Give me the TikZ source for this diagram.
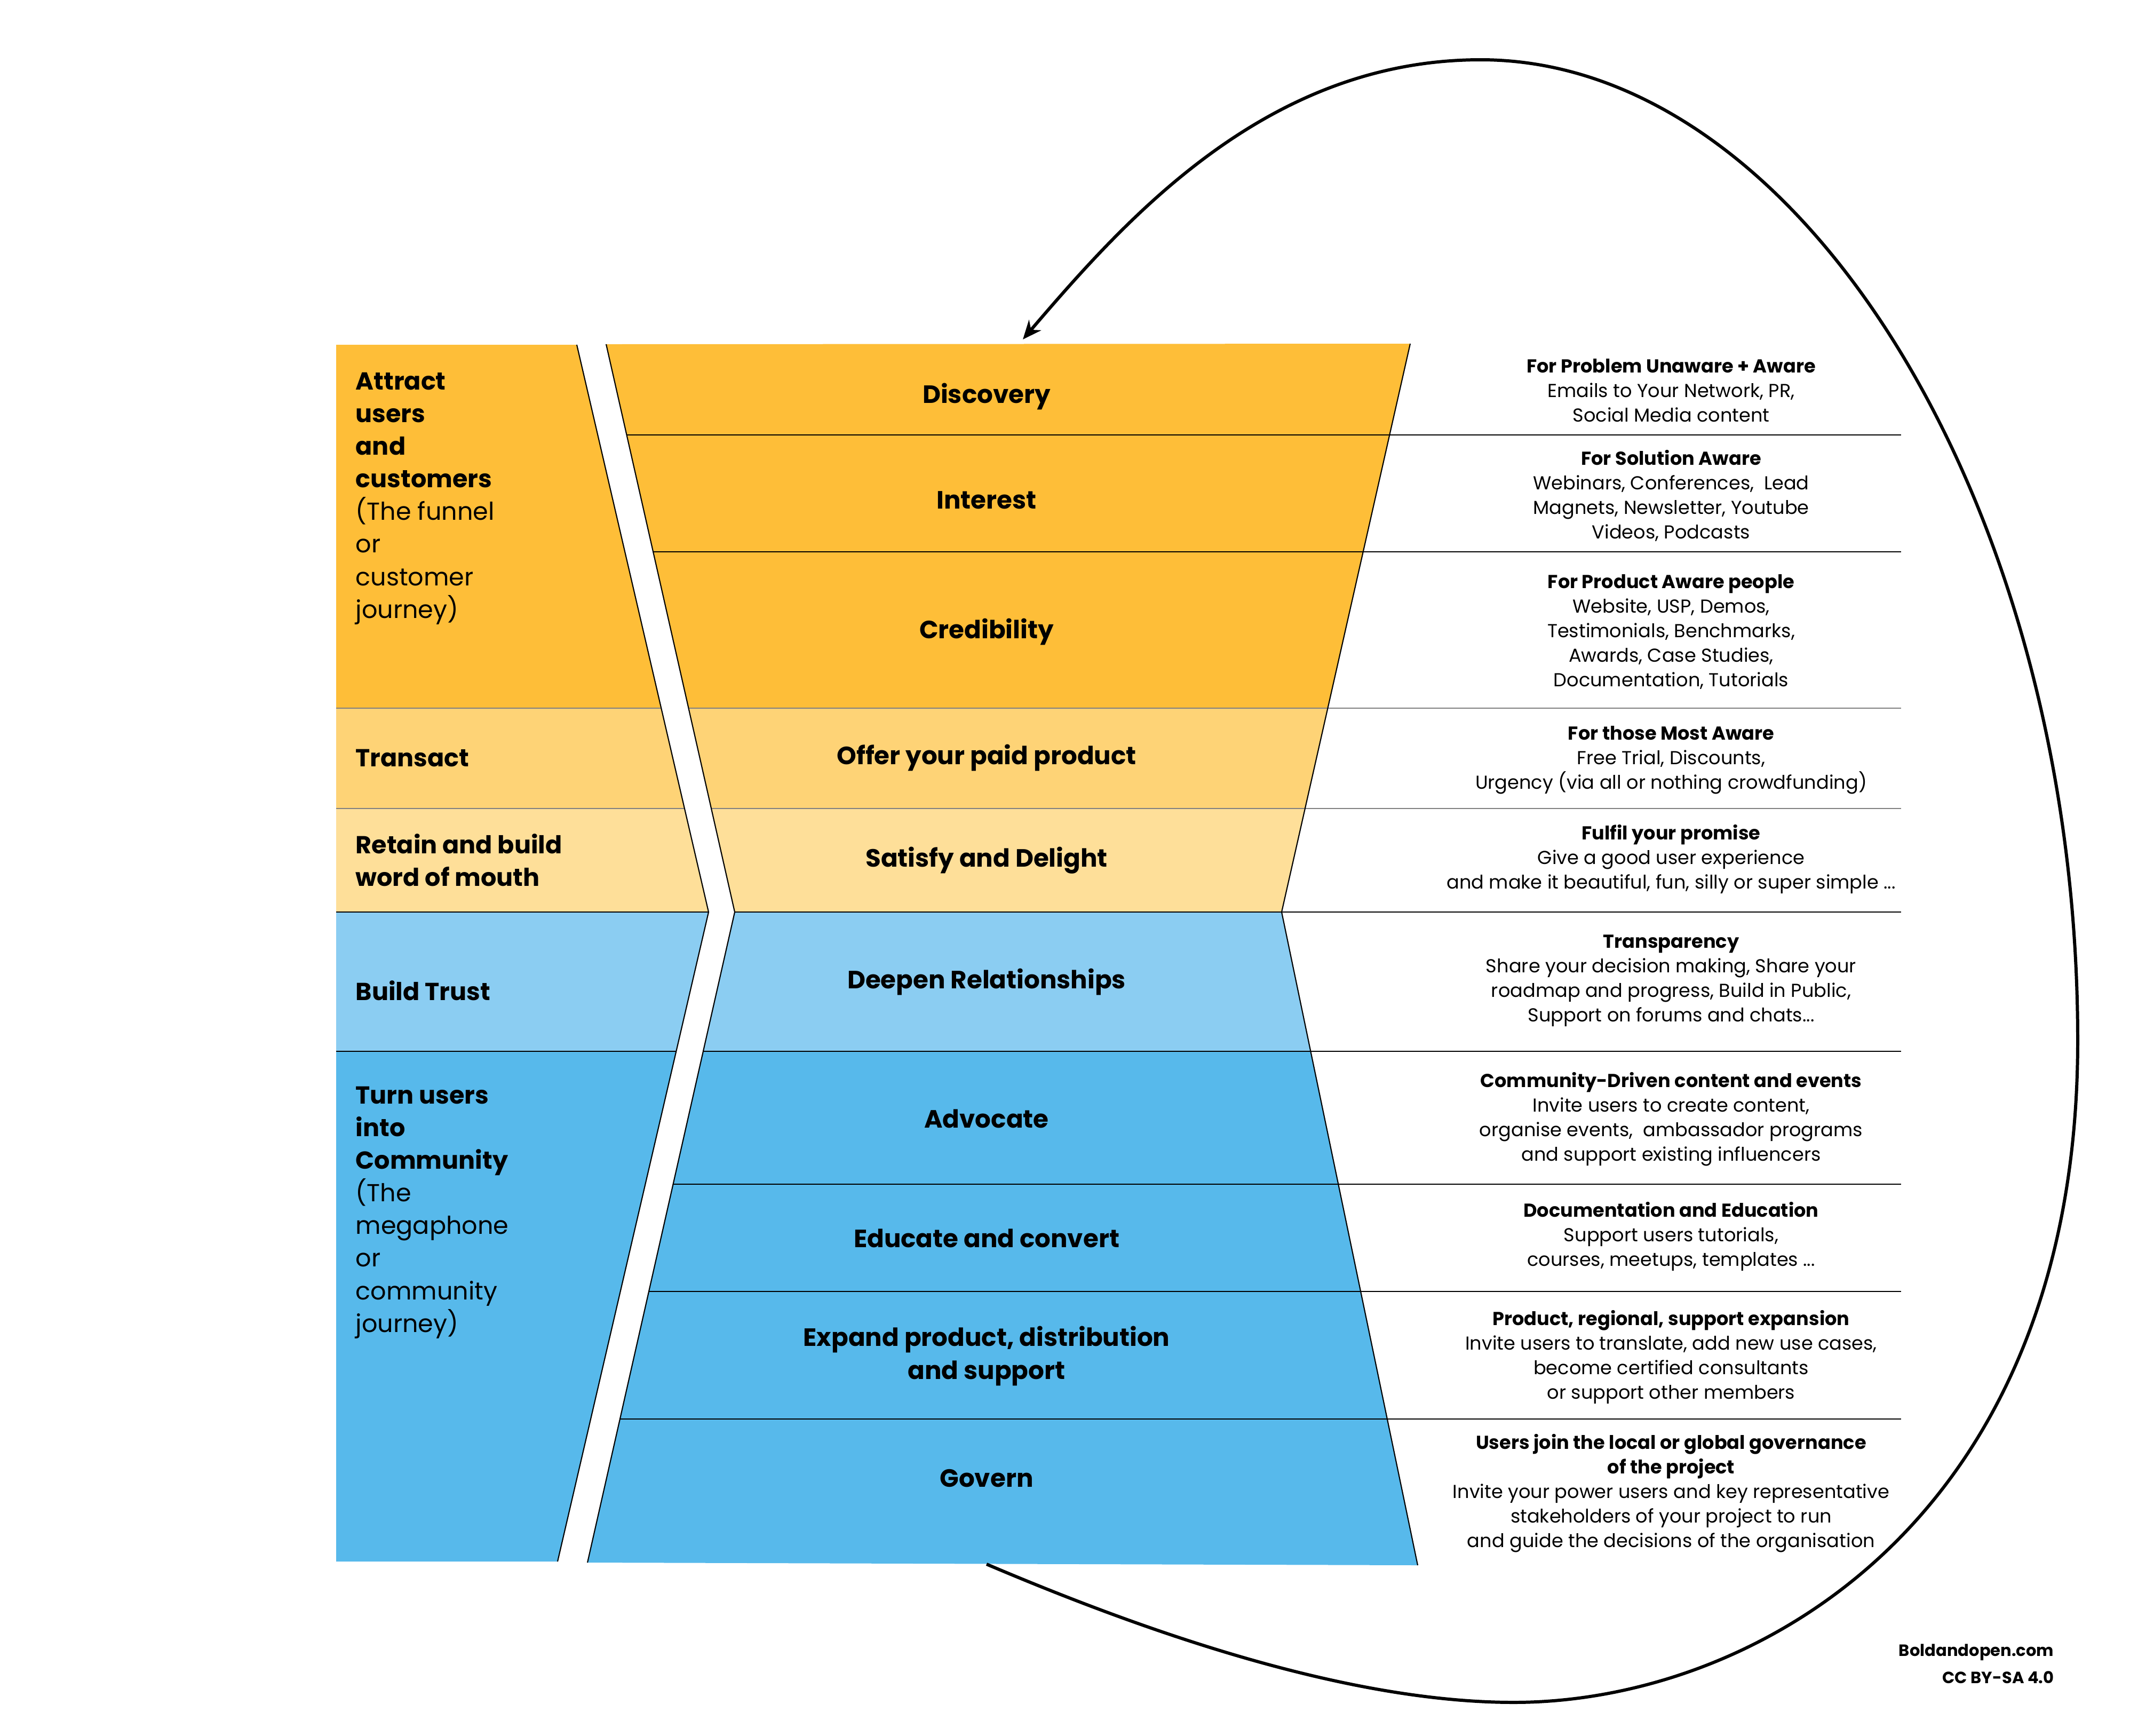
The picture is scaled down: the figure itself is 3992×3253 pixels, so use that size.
\documentclass[tikz,border=0pt]{standalone}
\usepackage{fontspec}
\setmainfont{Poppins}
\usepackage{tikz}
\usetikzlibrary{arrows.meta,calc}
\definecolor{attract}{RGB}{254,190,56}
\definecolor{transact}{RGB}{254,211,118}
\definecolor{retain}{RGB}{254,223,153}
\definecolor{trust}{RGB}{139,205,242}
\definecolor{community}{RGB}{87,185,235}
\newcommand{\lite}[1]{{\mdseries #1}}
\tikzset{
    stage/.style={
    font=\bfseries\fontsize{13.3}{17.4}\selectfont, align=center, inner sep=0pt
    },
    phase/.style={
    font=\bfseries\fontsize{13.1}{17.4}\selectfont, align=left, anchor=west, inner sep=0pt
    },
    tactic/.style={
    font=\fontsize{10}{13.1}\selectfont, align=center, inner sep=0pt
    },
  credit/.style={font=\bfseries\fontsize{8.7}{13.4}\selectfont, anchor=east, inner sep=0pt},
  rowline/.style={draw=black, line width=0.6pt},
  greyline/.style={draw=black!50, line width=0.6pt},
  rim/.style={draw=black, line width=0.6pt},
  cycleline/.style={draw=black, line width=1.7pt, -{Stealth[length=10pt,width=8.5pt]}}
}

\begin{document}
\begin{tikzpicture}[x=0.01cm,y=-0.01cm]
    \useasboundingbox (0,0) rectangle (3992,3253);

    % outline of the side column and of the funnel
    \coordinate (ltop) at (1081,646);
    \coordinate (lkink) at (1328,1709);
    \coordinate (lbot) at (1045,2926);
    \coordinate (ftl) at (1136,645);
    \coordinate (fkl) at (1377,1709);
    \coordinate (fbl) at (1101,2928);
    \coordinate (ftr) at (2643,644);
    \coordinate (fkr) at (2402,1709);
    \coordinate (fbr) at (2657,2933);

    \begin{scope}
      \clip (630,646) -- (ltop) -- (lkink) -- (lbot) -- (630,2926) -- cycle
            (ftl) -- (ftr) -- (fkr) -- (fbr) -- (fbl) -- (fkl) -- cycle;
      \foreach \ya/\yb/\col in {600/1327/attract,1327/1515/transact,1515/1709/retain,1709/1970/trust,1970/3000/community}
        \fill[\col] (600,\ya) rectangle (2700,\yb);
    \end{scope}

    \begin{scope}
      \clip (630,646) -- (ltop) -- (lkink) -- (lbot) -- (630,2926) -- cycle;
      \foreach \y in {1709,1970} \draw[rowline] (600,\y) -- (1400,\y);
      \foreach \y in {1327,1515} \draw[greyline] (600,\y) -- (1400,\y);
    \end{scope}

    \begin{scope}
      \clip (ftl) -- (fkl) -- (fbl) -- (3563,2933) -- (3563,644) -- cycle;
      \foreach \y in {815,1034,1709,1970,2219,2420,2659} \draw[rowline] (1000,\y) -- (3563,\y);
      \foreach \y in {1327,1515} \draw[greyline] (1000,\y) -- (3563,\y);
    \end{scope}

    \draw[rim] (ltop) -- (lkink) -- (lbot);
    \draw[rim] (ftl) -- (fkl) -- (fbl);
    \draw[rim] (ftr) -- (fkr) -- (fbr);

    % journeys
    \node[phase] (attr) at (666,934) {Attract\\users\\and\\customers\\\lite{(The funnel}\\\lite{or}\\\lite{customer}\\\lite{journey)}};
    \node[phase] (trans) at (666,1420) {Transact};
    \node[phase] (ret) at (666,1612) {Retain and build\\word of mouth};
    \node[phase] (trust) at (666,1856) {Build Trust};
    \node[phase] (comm) at (666,2272) {Turn users\\into\\Community\\\lite{(The}\\\lite{megaphone}\\\lite{or}\\\lite{community}\\\lite{journey)}};

    % funnel stages
    \node[stage] (disc) at (1849,743) {Discovery};
    \node[stage] (inter) at (1849,937) {Interest};
    \node[stage] (cred) at (1849,1184) {Credibility};
    \node[stage] (offer) at (1849,1420) {Offer your paid product};
    \node[stage] (sat) at (1849,1612) {Satisfy and Delight};
    \node[stage] (deep) at (1849,1840) {Deepen Relationships};
    \node[stage] (adv) at (1849,2096) {Advocate};
    \node[stage] (edu) at (1849,2320) {Educate and convert};
    \node[stage] (exp) at (1849,2541) {Expand product, distribution\\and support};
    \node[stage] (gov) at (1849,2770) {Govern};

    % tactics
    \node[tactic] (t1) at (3132,732) {\textbf{For Problem Unaware + Aware}\\Emails to Your Network, PR,\\Social Media content};
    \node[tactic] (t2) at (3132,929) {\textbf{For Solution Aware}\\Webinars, Conferences,\ \ Lead\\Magnets, Newsletter, Youtube\\Videos, Podcasts};
    \node[tactic] (t3) at (3132,1184) {\textbf{For Product Aware people}\\Website, USP, Demos,\\Testimonials, Benchmarks,\\Awards, Case Studies,\\Documentation, Tutorials};
    \node[tactic] (t4) at (3132,1424) {\textbf{For those Most Aware}\\Free Trial, Discounts,\\Urgency (via all or nothing crowdfunding)};
    \node[tactic] (t5) at (3132,1610) {\textbf{Fulfil your promise}\\Give a good user experience\\and make it beautiful, fun, silly or super simple ...};
    \node[tactic] (t6) at (3132,1838) {\textbf{Transparency}\\Share your decision making, Share your\\roadmap and progress, Build in Public,\\Support on forums and chats...};
    \node[tactic] (t7) at (3132,2097) {\textbf{Community-Driven content and events}\\Invite users to create content,\\organise events,\ \ ambassador programs\\and support existing influencers};
    \node[tactic] (t8) at (3132,2317) {\textbf{Documentation and Education}\\Support users tutorials,\\courses, meetups, templates ...};
    \node[tactic] (t9) at (3132,2543) {\textbf{Product, regional, support expansion}\\Invite users to translate, add new use cases,\\become certified consultants\\or support other members};
    \node[tactic] (t10) at (3132,2798) {\textbf{Users join the local or global governance}\\\textbf{of the project}\\Invite your power users and key representative\\stakeholders of your project to run\\and guide the decisions of the organisation};

    \node[credit] (site) at (3850,3096) {Boldandopen.com};
    \node[credit] (lic) at (3850,3143) {CC BY-SA 4.0};

    % loop back from the bottom of the funnel to its top
    \coordinate (loopstart) at (1849,2931);
    \coordinate (loopbottom) at (2837,3190);
    \coordinate (loopright) at (3894,1950);
    \coordinate (looptop) at (2775,112);
    \coordinate (loopend) at (1917,636);
    \draw[cycleline] (loopstart) .. controls (2171,3068) and (2537,3190) .. (loopbottom)
      .. controls (3287,3190) and (3894,2850) .. (loopright)
      .. controls (3894,950) and (3375,112) .. (looptop)
      .. controls (2375,112) and (2112,408) .. (loopend);
\end{tikzpicture}
\end{document}
